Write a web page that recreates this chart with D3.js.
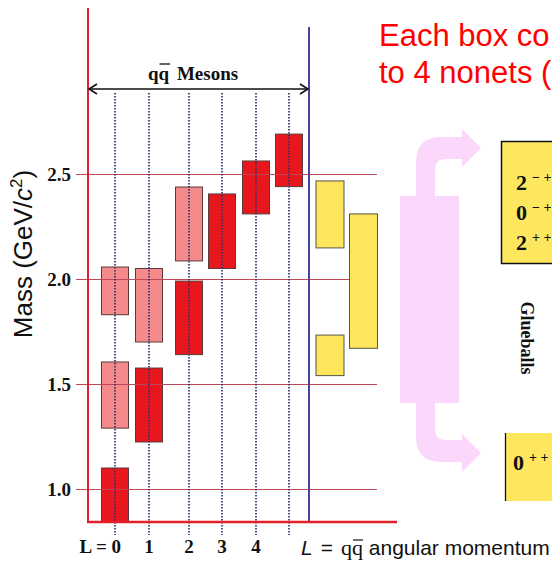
<!DOCTYPE html>
<html>
<head>
<meta charset="utf-8">
<script src="https://cdn.jsdelivr.net/npm/d3@7"></script>
<style>
  html, body { margin: 0; padding: 0; background: #fff; }
  svg { display: block; }
</style>
</head>
<body>
<svg id="chart" width="552" height="563"></svg>
<script>
// ---------------- data ----------------
const columns = ["0", "1", "2", "3", "4", "5"];
const columnLabels = ["L = 0", "1", "2", "3", "4", ""];

// meson nonet boxes (mass range in GeV/c^2)
const nonetCol  = ["0", "0", "0", "1", "1", "2", "2", "3", "4", "5"];
const nonetLow  = [0.84, 1.29, 1.83, 1.224, 1.70, 1.64, 2.086, 2.05, 2.31, 2.44];
const nonetHigh = [1.10, 1.605, 2.057, 1.576, 2.05, 1.99, 2.438, 2.405, 2.562, 2.69];
const nonetKind = ["ground", "excited", "excited", "ground", "excited", "ground", "excited", "ground", "ground", "ground"];

// glueball boxes
const glueCol  = ["a", "b", "a"];
const glueLow  = [2.148, 1.67, 1.54];
const glueHigh = [2.467, 2.31, 1.733];

const tickValues = [1.0, 1.5, 2.0, 2.5];
const tickLabels = ["1.0", "1.5", "2.0", "2.5"];

const glueStatesTop = [["2", "\u2212 +"], ["0", "\u2212 +"], ["2", "+ +"]];
const glueStateBottom = ["0", "+ +"];

// ---------------- setup ----------------
const svg = d3.select("#chart");
const SERIF = "'Liberation Serif', 'Times New Roman', serif";
const SANS = "'Liberation Sans', Arial, sans-serif";

const y = d3.scaleLinear().domain([1.0, 2.5]).range([489, 174]);
const axisLeftX = 88, axisBottomY = 522, dividerX = 309;
const massFloor = y.invert(axisBottomY);

const colX = d3.scaleOrdinal().domain(columns).range([115, 149, 189, 222, 256, 289]);
const glueX = d3.scaleOrdinal().domain(["a", "b"]).range([329.5, 363]);
const boxW = 27;

const fillOf = { ground: "#e8161d", excited: "#f48a8a" };

// ---------------- meson boxes ----------------
const nonets = nonetCol.map((c, i) => ({ c, lo: Math.max(nonetLow[i], massFloor), hi: nonetHigh[i], k: nonetKind[i] }));
svg.append("g").selectAll("rect").data(nonets).join("rect")
  .attr("x", d => colX(d.c) - boxW / 2)
  .attr("y", d => y(d.hi))
  .attr("width", boxW)
  .attr("height", d => y(d.lo) - y(d.hi))
  .attr("fill", d => fillOf[d.k])
  .attr("stroke", "#5a3a3a").attr("stroke-width", 1);

// ---------------- gridlines / y axis ----------------
const gridRight = 377;
const yAxis = d3.axisLeft(y)
  .tickValues(tickValues)
  .tickFormat((d, i) => tickLabels[i])
  .tickSizeInner(-(gridRight - axisLeftX))
  .tickSizeOuter(0)
  .tickPadding(17);
const gAxis = svg.append("g").attr("transform", `translate(${axisLeftX},0)`).call(yAxis);
gAxis.select(".domain").remove();
gAxis.selectAll(".tick line")
  .attr("x1", -12)
  .attr("stroke", "#c2465a").attr("stroke-width", 1);
gAxis.selectAll(".tick text")
  .attr("x", -17)
  .attr("dy", "0.34em")
  .attr("fill", "#111")
  .style("font-family", SERIF).style("font-weight", "bold").style("font-size", "19px");

// ---------------- glueball boxes ----------------
const glues = glueCol.map((c, i) => ({ c, lo: glueLow[i], hi: glueHigh[i] }));
svg.append("g").selectAll("rect").data(glues).join("rect")
  .attr("x", d => glueX(d.c) - boxW / 2)
  .attr("y", d => y(d.hi))
  .attr("width", boxW + 1)
  .attr("height", d => y(d.lo) - y(d.hi))
  .attr("fill", "#fde55c")
  .attr("stroke", "#55554a").attr("stroke-width", 1);

// ---------------- dotted L lines ----------------
svg.append("g").selectAll("line").data(columns).join("line")
  .attr("x1", d => colX(d)).attr("x2", d => colX(d))
  .attr("y1", 93).attr("y2", 535)
  .attr("stroke", "#33336e").attr("stroke-width", 1.7)
  .attr("stroke-dasharray", "1.6,1.4");

// ---------------- frame lines ----------------
svg.append("line").attr("x1", axisLeftX).attr("x2", axisLeftX).attr("y1", 8).attr("y2", axisBottomY + 1)
  .attr("stroke", "#e2202c").attr("stroke-width", 2);
svg.append("line").attr("x1", dividerX).attr("x2", dividerX).attr("y1", 27).attr("y2", axisBottomY)
  .attr("stroke", "#44449a").attr("stroke-width", 2);
svg.append("line").attr("x1", axisLeftX - 1).attr("x2", 397).attr("y1", axisBottomY).attr("y2", axisBottomY)
  .attr("stroke", "#e2202c").attr("stroke-width", 2.5);

// ---------------- qq Mesons double arrow ----------------
const arrY = 89;
svg.append("line").attr("x1", axisLeftX + 1).attr("x2", dividerX - 1).attr("y1", arrY).attr("y2", arrY)
  .attr("stroke", "#111").attr("stroke-width", 1.6);
svg.append("path").attr("d", `M${axisLeftX + 9},${arrY - 5} L${axisLeftX + 1},${arrY} L${axisLeftX + 9},${arrY + 5}`)
  .attr("fill", "none").attr("stroke", "#111").attr("stroke-width", 1.6);
svg.append("path").attr("d", `M${dividerX - 9},${arrY - 5} L${dividerX - 1},${arrY} L${dividerX - 9},${arrY + 5}`)
  .attr("fill", "none").attr("stroke", "#111").attr("stroke-width", 1.6);

const mesTxt = svg.append("text").attr("x", 148).attr("y", 80)
  .style("font-family", SERIF).style("font-weight", "bold").style("font-size", "19px").attr("fill", "#111");
mesTxt.append("tspan").text("q");
mesTxt.append("tspan").text("q");
mesTxt.append("tspan").attr("dx", 3).text(" Mesons");
{
  const node = mesTxt.node();
  const s = node.getStartPositionOfChar(1).x, e = node.getEndPositionOfChar(1).x;
  svg.append("line").attr("x1", s + 1).attr("x2", e + 1).attr("y1", 64).attr("y2", 64)
    .attr("stroke", "#111").attr("stroke-width", 1.3);
}

// ---------------- column labels ----------------
svg.append("g").selectAll("text").data(columns.filter((c, i) => columnLabels[i] !== "")).join("text")
  .attr("x", (d, i) => i === 0 ? colX(d) + 6 : colX(d))
  .attr("y", 553)
  .attr("text-anchor", (d, i) => i === 0 ? "end" : "middle")
  .style("font-family", SERIF).style("font-weight", "bold").style("font-size", "19px")
  .attr("fill", "#111")
  .text((d, i) => columnLabels[i]);

// ---------------- y axis title ----------------
const yTitle = svg.append("text")
  .attr("transform", "translate(32,254) rotate(-90)")
  .attr("text-anchor", "middle")
  .style("font-family", SANS).style("font-size", "26px").attr("fill", "#111");
yTitle.append("tspan").text("Mass (GeV/");
yTitle.append("tspan").style("font-style", "italic").text("c");
yTitle.append("tspan").attr("dy", -10).style("font-size", "17px").text("2");
yTitle.append("tspan").attr("dy", 10).text(")");

// ---------------- x axis title ----------------
const xTitle = svg.append("text").attr("x", 301).attr("y", 555)
  .style("font-family", SANS).style("font-size", "21px").attr("fill", "#111");
xTitle.append("tspan").style("font-style", "italic").text("L");
xTitle.append("tspan").attr("dx", 8).text("=");
xTitle.append("tspan").attr("dx", 8).style("font-family", SERIF).style("font-size", "22px").text("qq");
xTitle.append("tspan").text(" angular momentum");
{
  const node = xTitle.node();
  const idx = 3;
  const s = node.getStartPositionOfChar(idx).x, e = node.getEndPositionOfChar(idx).x;
  svg.append("line").attr("x1", s + 1).attr("x2", e).attr("y1", 540).attr("y2", 540)
    .attr("stroke", "#111").attr("stroke-width", 1.2);
}

// ---------------- red heading ----------------
const head = svg.append("text").style("font-family", SANS).style("font-size", "31px").attr("fill", "#ff0000");
head.append("tspan").attr("x", 379).attr("y", 46).text("Each box co");
head.append("tspan").attr("x", 379).attr("y", 83).text("to 4 nonets (");

// ---------------- pink glueball arrows ----------------
const pink = "#fbd8fb";
svg.append("rect").attr("x", 400).attr("y", 196).attr("width", 59).attr("height", 207).attr("fill", pink);
svg.append("path").attr("fill", pink).attr("d",
  "M416,200 L416,162 Q416,137 441,137 L462,137 L462,129 L481,148 L462,167 L462,159 L446,159 Q435,159 435,170 L435,200 Z");
svg.append("path").attr("fill", pink).attr("d",
  "M416,400 L416,437 Q416,462 441,462 L462,462 L462,472 L481,453 L462,434 L462,440 L446,440 Q435,440 435,429 L435,400 Z");

// ---------------- glueball state boxes ----------------
svg.append("rect").attr("x", 501.5).attr("y", 141.5).attr("width", 70).attr("height", 122)
  .attr("fill", "#fee75e").attr("stroke", "#111").attr("stroke-width", 1.5);
svg.append("g").selectAll("text").data(glueStatesTop).join("text")
  .attr("x", 516).attr("y", (d, i) => 190 + i * 30)
  .style("font-family", SERIF).style("font-weight", "bold").style("font-size", "22px").attr("fill", "#111")
  .each(function (d) {
    const t = d3.select(this);
    t.append("tspan").text(d[0]);
    t.append("tspan").attr("dx", 5).attr("dy", -8).style("font-size", "14px").text(d[1]);
  });

svg.append("rect").attr("x", 505).attr("y", 433).attr("width", 60).attr("height", 68).attr("fill", "#fee75e");
svg.append("line").attr("x1", 505.5).attr("x2", 505.5).attr("y1", 433).attr("y2", 501).attr("stroke", "#111").attr("stroke-width", 1.3);
{
  const t = svg.append("text").attr("x", 513).attr("y", 470)
    .style("font-family", SERIF).style("font-weight", "bold").style("font-size", "22px").attr("fill", "#111");
  t.append("tspan").text(glueStateBottom[0]);
  t.append("tspan").attr("dx", 5).attr("dy", -8).style("font-size", "14px").text(glueStateBottom[1]);
}

svg.append("text").attr("transform", "translate(521,338) rotate(90)")
  .attr("text-anchor", "middle")
  .style("font-family", SERIF).style("font-weight", "bold").style("font-size", "18px").attr("fill", "#111")
  .text("Glueballs");
</script>
</body>
</html>
